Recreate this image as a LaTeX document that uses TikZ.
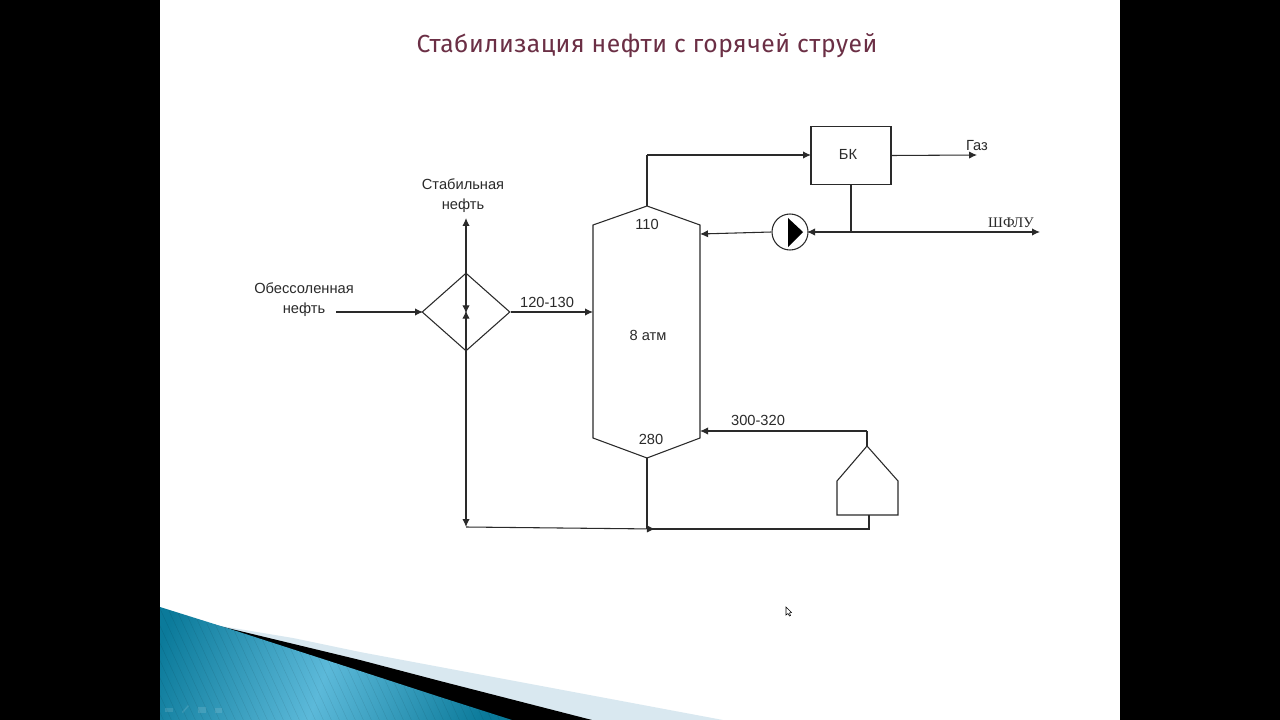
\documentclass[tikz,border=0pt]{standalone}
\usepackage{fontspec}
\setmainfont{Liberation Sans}
\newfontfamily\titlefont[LetterSpace=2.0]{Fira Sans}
\newfontfamily\shflufont{Liberation Serif}
\usetikzlibrary{arrows.meta}
\usetikzlibrary{shapes.geometric}
\definecolor{titlecol}{HTML}{6B2F45}
\definecolor{linecol}{HTML}{2A2A2A}
\definecolor{tealdark}{HTML}{0B7A9A}
\definecolor{teallight}{HTML}{5CB9D9}
\definecolor{palewedge}{HTML}{D9E8F0}

\begin{document}
\begin{tikzpicture}[x=0.75pt, y=-0.75pt,
	pipe/.style={draw=linecol, line width=0.8pt},
	flow/.style={pipe, -{Latex[length=6pt,width=5.5pt]}},
	lbl/.style={inner sep=0pt, text=linecol, font=\fontsize{11}{15}\selectfont, align=center}]
	
	\useasboundingbox (0,0) rectangle (1280,720);
	\fill[white] (0,0) rectangle (1280,720);
	\fill[black] (0,0) rectangle (160,720);
	\fill[black] (1120,0) rectangle (1280,720);
	
	\fill[palewedge] (215,625) -- (293,638) -- (360,652) -- (440,667) -- (723,720) -- (500,720) -- cycle;
	\fill[black] (215,625) -- (360,660) -- (440,681) -- (592,720) -- (500,720) -- cycle;
	\begin{scope}
		\clip (160,607) -- (227,628) -- (360,671) -- (440,697) -- (512,720) -- (160,720) -- cycle;
		\shade[left color=tealdark, right color=tealdark, middle color=teallight, shading angle=70]
			(130,590) rectangle (530,730);
		\foreach \i in {0,...,60}
			\draw[black, opacity=0.1, line width=0.3pt] (100+\i*8,600) -- (160+\i*8,730);
		\fill[white, opacity=0.12] (165,708) rectangle (173,712);
		\fill[white, opacity=0.12] (182,712) -- (188,705) -- (189,706) -- (183,713) -- cycle;
		\fill[white, opacity=0.12] (198,707) rectangle (206,713);
		\fill[white, opacity=0.12] (215,708) rectangle (222,713);
	\end{scope}
	
	\node[text=titlecol, inner sep=0pt, font=\titlefont\fontsize{18.5}{22}\selectfont] (title) at (647,45.5) {Стабилизация нефти с горячей струей};
	
	\coordinate (k1) at (647,206);
	\coordinate (k2) at (700,225);
	\coordinate (k3) at (700,438);
	\coordinate (k4) at (647,458);
	\coordinate (k5) at (593,438);
	\coordinate (k6) at (593,225);
	\draw[pipe] (k1) -- (k2) -- (k3) -- (k4) -- (k5) -- (k6) -- cycle;
	
	\coordinate (f1) at (867,446);
	\coordinate (f2) at (898,481);
	\coordinate (f3) at (898,515);
	\coordinate (f4) at (837,515);
	\coordinate (f5) at (837,481);
	\draw[pipe] (f1) -- (f2) -- (f3) -- (f4) -- (f5) -- cycle;
	
	\node[pipe, diamond, shape aspect=1.128, minimum width=66pt, minimum height=58.5pt, inner sep=0pt] (hx) at (466,312) {};
	\node[pipe, minimum width=60pt, minimum height=44pt, inner sep=0pt] (bk) at (851,155.5) {};
	\node[pipe, circle, minimum size=27pt, inner sep=0pt] (pump) at (790,232) {};
	\fill[black] (788,218) -- (803,232) -- (788,247) -- cycle;
	
	\coordinate (feed) at (336,312);
	\coordinate (hxin) at (423,312);
	\coordinate (hxmid) at (466,312);
	\coordinate (hxtop) at (466,273);
	\coordinate (hxbot) at (466,351);
	\coordinate (stab) at (466,218);
	\coordinate (colin) at (593,312);
	\coordinate (colout) at (647,155);
	\coordinate (bkin) at (811,155);
	\coordinate (gas) at (977,155);
	\coordinate (bkdown) at (851,232);
	\coordinate (shflu) at (1040,232);
	\coordinate (pumpin) at (807,232);
	\coordinate (reflux) at (700,234);
	\coordinate (hot) at (700,431);
	\coordinate (hotup) at (867,431);
	\coordinate (b1) at (466,527);
	\coordinate (b2) at (655,529);
	\coordinate (b3) at (647,529);
	\coordinate (b4) at (869,529);
	\coordinate (b5) at (869,515);
	
	\draw[flow] (feed) -- (hxin);
	\draw[flow] (hx.east) -- (colin);
	\draw[flow] (hxtop) -- (stab);
	\draw[flow] (hxtop) -- ([yshift=-1pt]hxmid);
	\draw[flow] (hxbot) -- ([yshift=1pt]hxmid);
	\draw[flow] (hxbot) -- (b1);
	\draw[flow] (b1) -- (b2);
	\draw[pipe] (k4) -- (b3);
	\draw[pipe] (b3) -- (b4) -- (b5);
	\draw[pipe] (f1) -- (hotup);
	\draw[flow] (hotup) -- (hot);
	\draw[pipe] (k1) -- (colout);
	\draw[flow] (colout) -- (bkin);
	\draw[flow] (bk.east) -- (gas);
	\draw[pipe] (bk.south) -- (bkdown);
	\draw[flow] (bkdown) -- (shflu);
	\draw[flow] (bkdown) -- (pumpin);
	\draw[flow] (pump.west) -- (reflux);
	
	\node[lbl] (lfeed) at (304,299.5) {Обессоленная\\нефть};
	\node[lbl] (lstab) at (463,195.5) {Стабильная\\нефть};
	\node[lbl] (lt1) at (547,302) {120-130};
	\node[lbl] (lt2) at (647,224) {110};
	\node[lbl] (lp) at (648,335.5) {8 атм};
	\node[lbl] (lt3) at (651,439) {280};
	\node[lbl] (lt4) at (758,420.5) {300-320};
	\node[lbl] (lbk) at (848,154.5) {БК};
	\node[lbl] (lgas) at (977,145.5) {Газ};
	\node[lbl, font=\shflufont\fontsize{11}{15}\selectfont] (lshflu) at (1011,222.5) {ШФЛУ};
	
	\draw[black, line width=0.4pt, fill=white] (786,607) -- (786,615) -- (788,613.5) -- (789.5,616) -- (790.5,615.5) -- (789.5,613) -- (791.5,612.5) -- cycle;
\end{tikzpicture}
\end{document}
